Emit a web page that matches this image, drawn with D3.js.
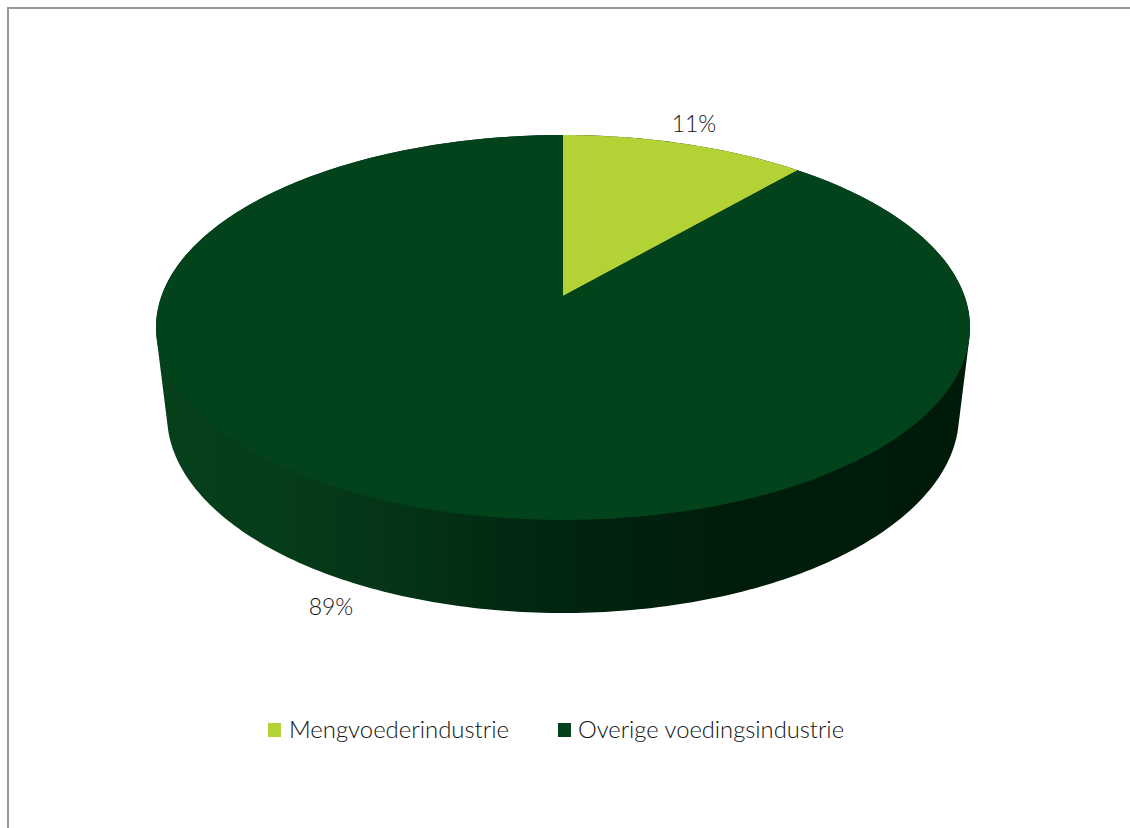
<!DOCTYPE html>
<html>
<head>
<meta charset="utf-8">
<script src="https://cdn.jsdelivr.net/npm/d3@7/dist/d3.min.js"></script>
<style>html,body{margin:0;padding:0;background:#fff}svg{display:block}</style>
</head>
<body>
<svg id="c" width="1130" height="828"></svg>
<script>
const categories = ["Mengvoederindustrie", "Overige voedingsindustrie"];
const values = [11.4, 88.6];
const colors = ["#b2d235", "#02431c"];
const sideStops = [[0,"#06401b"],[0.15,"#053c19"],[0.3,"#043416"],[0.42,"#022a12"],[0.55,"#01220e"],[0.7,"#001d0b"],[1,"#001a0a"]];

const svg = d3.select("#c");
svg.append("path").attr("d","M8 828V8H1130").attr("fill","none").attr("stroke","#999").attr("stroke-width",2);

const defs = svg.append("defs");
const grad = defs.append("linearGradient").attr("id","side").attr("gradientUnits","userSpaceOnUse")
  .attr("x1",156).attr("x2",970).attr("y1",0).attr("y2",0);
grad.selectAll("stop").data(sideStops).join("stop").attr("offset",d=>d[0]).attr("stop-color",d=>d[1]);

// perspective projection of the pie's top face
const cx = 563, cy = 296, A = 401.5, B = 187.3, k = 0.1636;
const proj = t => { const u = Math.sin(t), v = Math.cos(t), w = 1 + k*v; return [cx + A*u/w, cy - B*v/w]; };
// bottom rim of the pie's side wall
const rim = t => [cx + 396*Math.sin(t), 415 - 198*Math.cos(t)];

const TAU = 2*Math.PI;
const arcs = d3.pie().sort(null)(values);
const line = d3.line();

const ring = d3.range(0, 361, 1).map(a => a/360*TAU);
const hull = d3.polygonHull(ring.map(proj).concat(ring.map(rim)));
svg.append("path").attr("d", line(hull)+"Z").attr("fill","url(#side)");

const slice = d => {
  const n = Math.max(2, Math.ceil((d.endAngle-d.startAngle)*60));
  const pts = d3.range(n+1).map(i => proj(d.startAngle + (d.endAngle-d.startAngle)*i/n));
  return line([[cx,cy],...pts])+"Z";
};
svg.selectAll("path.s").data(arcs).join("path").attr("class","s")
  .attr("d",slice).attr("fill",(d,i)=>colors[i]);

const font = "Lato, Carlito, sans-serif";
const labelPos = [[694,132],[331,615]];
svg.selectAll("text.l").data(arcs).join("text").attr("class","l")
  .attr("x",(d,i)=>labelPos[i][0]).attr("y",(d,i)=>labelPos[i][1])
  .attr("text-anchor","middle").attr("font-family",font).attr("font-weight",300).attr("font-size",23).attr("fill","#111")
  .text(d=>d3.format(".0f")(d.value)+"%");

const legendX = [268,558], legendTextX = [21,20], legendW = [220,266];
const lg = svg.selectAll("g.lg").data(categories).join("g").attr("class","lg")
  .attr("transform",(d,i)=>`translate(${legendX[i]},723)`);
lg.append("rect").attr("width",13).attr("height",14).attr("fill",(d,i)=>colors[i]);
lg.append("text").attr("x",(d,i)=>legendTextX[i]).attr("y",15).attr("font-family",font).attr("font-weight",300).attr("font-size",23).attr("fill","#111")
  .attr("textLength",(d,i)=>legendW[i]).attr("lengthAdjust","spacingAndGlyphs").text(d=>d);
</script>
</body>
</html>
